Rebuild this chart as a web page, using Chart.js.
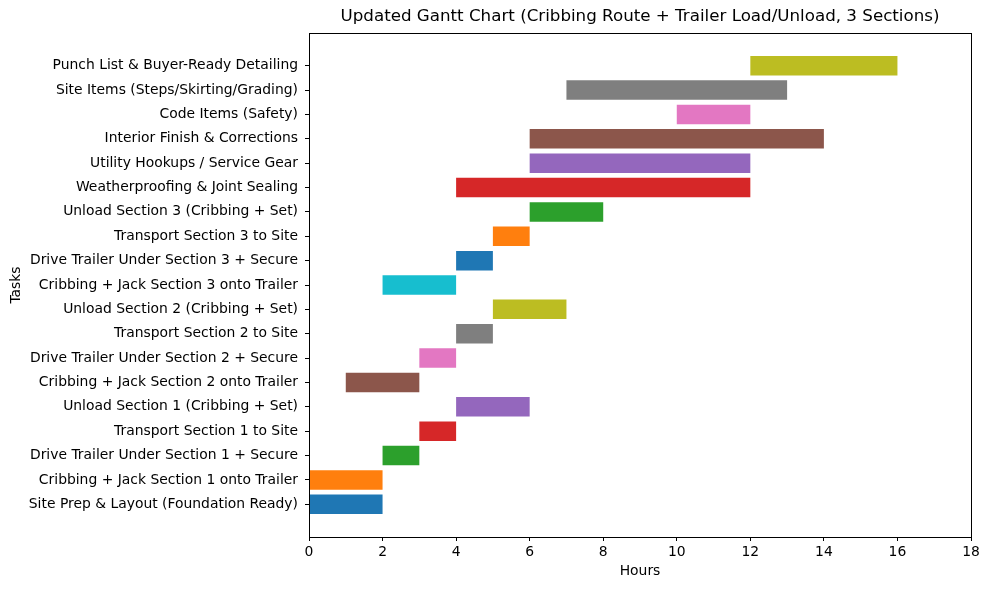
<!DOCTYPE html>
<html>
<head>
<meta charset="utf-8">
<script src="https://cdn.jsdelivr.net/npm/chart.js@4/dist/chart.umd.min.js"></script>
<style>
  html, body { margin: 0; padding: 0; background: #fff; }
  #wrap { width: 990px; height: 590px; }
</style>
</head>
<body>
<div id="wrap"><canvas id="gantt" width="990" height="590"></canvas></div>
<script>
// tasks, bottom to top
const tasks = [
  'Site Prep & Layout (Foundation Ready)',
  'Cribbing + Jack Section 1 onto Trailer',
  'Drive Trailer Under Section 1 + Secure',
  'Transport Section 1 to Site',
  'Unload Section 1 (Cribbing + Set)',
  'Cribbing + Jack Section 2 onto Trailer',
  'Drive Trailer Under Section 2 + Secure',
  'Transport Section 2 to Site',
  'Unload Section 2 (Cribbing + Set)',
  'Cribbing + Jack Section 3 onto Trailer',
  'Drive Trailer Under Section 3 + Secure',
  'Transport Section 3 to Site',
  'Unload Section 3 (Cribbing + Set)',
  'Weatherproofing & Joint Sealing',
  'Utility Hookups / Service Gear',
  'Interior Finish & Corrections',
  'Code Items (Safety)',
  'Site Items (Steps/Skirting/Grading)',
  'Punch List & Buyer-Ready Detailing'
];
const starts = [0, 0, 2, 3, 4, 1, 3, 4, 5, 2, 4, 5, 6, 4, 6, 6, 10, 7, 12];
const ends   = [2, 2, 3, 4, 6, 3, 4, 5, 7, 4, 5, 6, 8, 12, 12, 14, 12, 13, 16];
const hourTicks = [0, 2, 4, 6, 8, 10, 12, 14, 16, 18];
const chartTitle = 'Updated Gantt Chart (Cribbing Route + Trailer Load/Unload, 3 Sections)';

const tab10 = ['#1f77b4', '#ff7f0e', '#2ca02c', '#d62728', '#9467bd',
               '#8c564b', '#e377c2', '#7f7f7f', '#bcbd22', '#17becf'];

Chart.defaults.font.family = 'DejaVu Sans';
Chart.defaults.color = '#000';

// matplotlib-like box round the plot, title centred over the axes
const frame = {
  id: 'frame',
  afterDraw(chart) {
    const a = chart.chartArea, c = chart.ctx;
    c.save();
    c.strokeStyle = '#000';
    c.lineWidth = 1;
    c.strokeRect(Math.round(a.left) + 0.5, Math.round(a.top) + 0.5,
                 Math.round(a.right - a.left), Math.round(a.bottom - a.top));
    c.fillStyle = '#000';
    c.font = '16.7px "DejaVu Sans"';
    c.textAlign = 'center';
    c.textBaseline = 'middle';
    c.fillText(chartTitle, (a.left + a.right) / 2, 17);
    c.restore();
  }
};

function start() {
  const ctx = document.getElementById('gantt').getContext('2d');
  new Chart(ctx, {
    type: 'bar',
    data: {
      datasets: [{
        data: tasks.map((t, i) => ({ x: [starts[i], ends[i]], y: i })),
        backgroundColor: tasks.map((t, i) => tab10[i % tab10.length]),
        borderWidth: 0,
        inflateAmount: 0,
        categoryPercentage: 0.8,
        barPercentage: 1.0
      }]
    },
    options: {
      indexAxis: 'y',
      responsive: false,
      animation: false,
      layout: { padding: { left: 0, right: 19, top: 33, bottom: 0 } },
      plugins: {
        legend: { display: false },
        tooltip: { enabled: false },
        title: { display: false }
      },
      scales: {
        x: {
          type: 'linear',
          min: 0,
          max: 18,
          afterBuildTicks: (axis) => { axis.ticks = hourTicks.map(v => ({ value: v })); },
          afterFit: (axis) => { axis.height = 53; },
          ticks: { font: { size: 13.9 }, padding: 3, maxRotation: 0, color: '#000' },
          grid: { drawOnChartArea: false, drawTicks: true, tickLength: 4, color: '#000' },
          border: { color: '#000' },
          title: { display: true, text: 'Hours', font: { size: 13.9 }, padding: { top: 0, bottom: 10 }, color: '#000' }
        },
        y: {
          type: 'linear',
          min: -1.34,
          max: 19.34,
          offset: false,
          afterBuildTicks: (axis) => { axis.ticks = tasks.map((t, i) => ({ value: i })); },
          afterFit: (axis) => { axis.width = 309; },
          ticks: {
            font: { size: 13.9 },
            padding: 7,
            color: '#000',
            callback: (v) => tasks[v]
          },
          grid: { offset: false, drawOnChartArea: false, drawTicks: true, tickLength: 4, color: '#000' },
          border: { color: '#000' },
          title: { display: true, text: 'Tasks', font: { size: 13.9 }, padding: { top: 8, bottom: 0 }, color: '#000' }
        }
      }
    },
    plugins: [frame]
  });
}

window.onload = start;
</script>
</body>
</html>
